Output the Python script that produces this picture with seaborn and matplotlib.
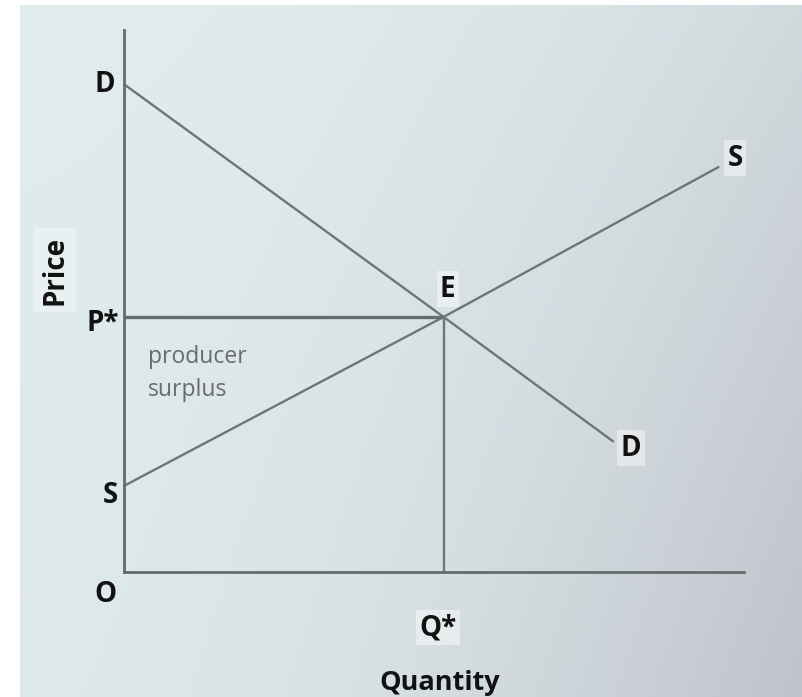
import numpy as np
import pandas as pd
import matplotlib
matplotlib.use("Agg")
import matplotlib.pyplot as plt
import seaborn as sns

# Market curves (quantity, price)
demand_q = [0.0, 10.0, 15.3]
demand_p = [15.3, 8.0, 4.1]
supply_q = [0.0, 10.0, 18.6]
supply_p = [2.7, 8.0, 12.7]
q_star = 10.0
p_star = 8.0
q_max = 19.4
p_max = 17.0

sns.set_theme(style="white")
plt.rcParams["font.family"] = ["Open Sans", "DejaVu Sans"]

fig = plt.figure(figsize=(8.02, 6.97), dpi=100)
fig.patch.set_facecolor("white")

# Paper-like background: light bluish grey darkening towards the lower right
bg = fig.add_axes([20 / 802, 0, 782 / 802, 692 / 697], zorder=0)
h, w = 200, 230
yy, xx = np.mgrid[0:1:h * 1j, 0:1:w * 1j]
t = np.clip(0.45 * xx ** 2.2 + 0.45 * (xx ** 1.5) * yy + 0.08 * yy, 0, 1)
c0 = np.array([0.880, 0.925, 0.932])
c1 = np.array([0.745, 0.760, 0.790])
img = c0[None, None, :] * (1 - t[..., None]) + c1[None, None, :] * t[..., None]
bg.imshow(img, aspect="auto", extent=[0, 1, 0, 1], origin="upper")
bg.set_axis_off()

ax = fig.add_axes([124 / 802, 125 / 697, 620 / 802, 542 / 697], zorder=1)
ax.patch.set_alpha(0)
ax.set_xlim(0, q_max)
ax.set_ylim(0, p_max)

line_col = "#6d7575"
curves = pd.DataFrame({
    "Quantity": demand_q + supply_q,
    "Price": demand_p + supply_p,
    "curve": ["D"] * len(demand_q) + ["S"] * len(supply_q),
})
sns.lineplot(data=curves, x="Quantity", y="Price", units="curve", estimator=None,
             color=line_col, linewidth=1.7, sort=False, ax=ax)

# Equilibrium price and quantity guides
ax.plot([0, q_star], [p_star, p_star], color="#646c6c", linewidth=2.4,
        solid_capstyle="butt")
ax.plot([q_star, q_star], [0, p_star], color=line_col, linewidth=1.7)

for side in ["top", "right"]:
    ax.spines[side].set_visible(False)
for side in ["left", "bottom"]:
    ax.spines[side].set_color("#636b6b")
    ax.spines[side].set_linewidth(2.0)
ax.set_xticks([])
ax.set_yticks([])
ax.set_xlabel("")
ax.set_ylabel("")

lab = dict(fontsize=20, fontweight="bold", color="#111111",
           textcoords="offset points", ha="center", va="center")
box = dict(boxstyle="square,pad=0.12", facecolor="white", edgecolor="none", alpha=0.45)

ax.annotate("D", (demand_q[0], demand_p[0]), xytext=(-13.5, 0), **lab)
ax.annotate("S", (supply_q[-1], supply_p[-1]), xytext=(12, 6.5), bbox=box, **lab)
ax.annotate("E", (q_star, p_star), xytext=(3, 20), bbox=box, **lab)
ax.annotate("P*", (0, p_star), xytext=(-15, -5), **lab)
ax.annotate("S", (supply_q[0], supply_p[0]), xytext=(-10, -7), **lab)
ax.annotate("D", (demand_q[-1], demand_p[-1]), xytext=(13, -5), bbox=box, **lab)
ax.annotate("O", (0, 0), xytext=(-13.5, -16.5), **lab)
ax.annotate("Q*", (q_star, 0), xytext=(-4, -40), bbox=box, **lab)

ax.annotate("producer\nsurplus", (0, p_star), xytext=(17, -41), textcoords="offset points",
            ha="left", va="center", fontsize=16.5, color="#6a6a6a", linespacing=1.5)

fig.text(440 / 802, (697 - 683) / 697, "Quantity", ha="center", va="center",
         fontsize=19.5, fontweight="bold", color="#111111")
fig.text(55 / 802, (697 - 270) / 697, "Price", ha="center", va="center", rotation=90,
         fontsize=20, fontweight="bold", color="#111111",
         bbox=dict(boxstyle="square,pad=0.25", facecolor="white", edgecolor="none", alpha=0.3))

fig.savefig("out.png", dpi=100)
